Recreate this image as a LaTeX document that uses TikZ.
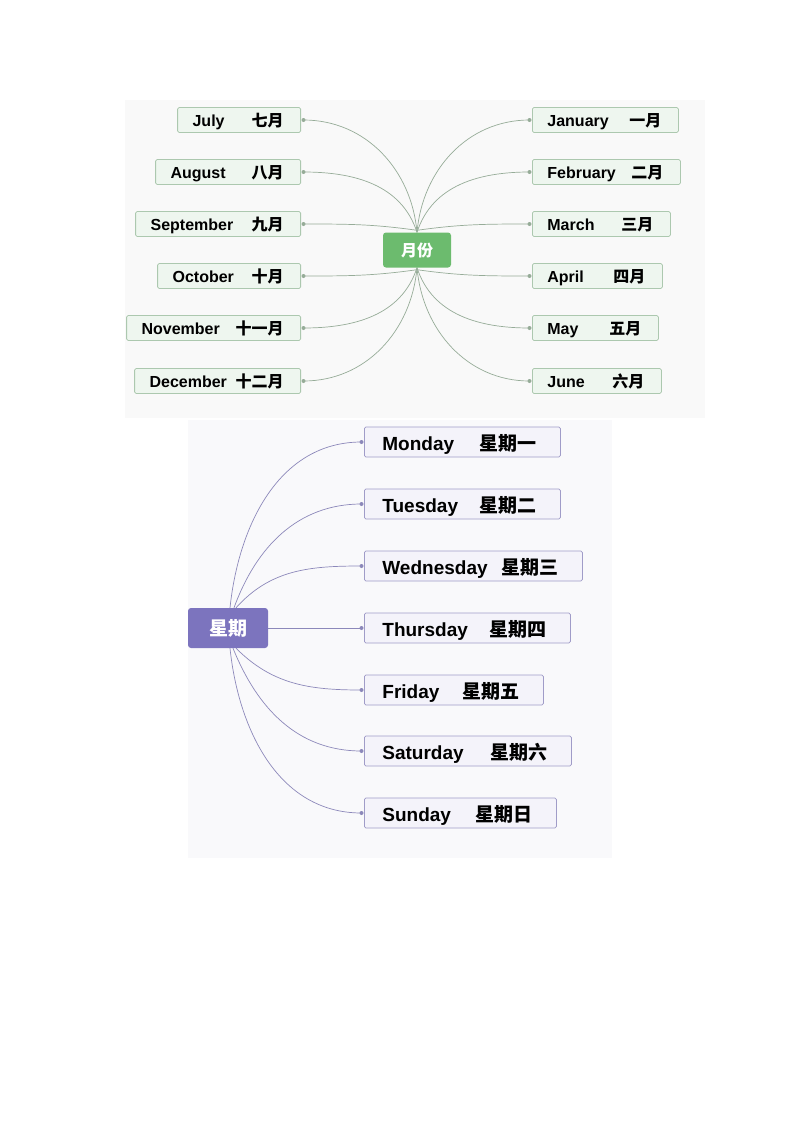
\documentclass[tikz,border=0pt]{standalone}
\usepackage{fontspec}
\setmainfont{Liberation Sans}
\newfontfamily\cjk{Noto Sans CJK SC}
\usetikzlibrary{backgrounds}
\definecolor{gnode}{RGB}{108,187,110}
\definecolor{gbox}{RGB}{238,246,239}
\definecolor{gedge}{RGB}{172,200,175}
\definecolor{gline}{RGB}{150,172,152}
\definecolor{pnode}{RGB}{124,116,190}
\definecolor{pbox}{RGB}{244,243,250}
\definecolor{pedge}{RGB}{160,156,200}
\definecolor{pline}{RGB}{140,136,186}
\definecolor{panel}{RGB}{249,249,249}
\definecolor{panelb}{RGB}{249,249,251}
\newcommand\mtxt[3]{\makebox[#1pt]{\hspace{15pt}#2\hfill{\cjk #3}\hspace{17pt}}}
\newcommand\wtxt[3]{\makebox[#1pt]{\hspace{18pt}#2\hfill{\cjk #3}\hspace{24pt}}}
\tikzset{
  monbox/.style={draw=gedge, fill=gbox, line width=0.8pt, rounded corners=1.5pt, inner xsep=0pt, inner ysep=0pt,
    minimum height=25pt, text height=14pt, text depth=1.5pt, font=\fontsize{16}{18}\selectfont\bfseries},
  wkbox/.style={draw=pedge, fill=pbox, line width=0.8pt, rounded corners=1.5pt, inner xsep=0pt, inner ysep=0pt,
    minimum height=30pt, text height=17.5pt, text depth=1pt, font=\fontsize{19}{21}\selectfont\bfseries},
  gcenter/.style={fill=gnode, rounded corners=3pt, minimum width=68pt, minimum height=35pt, inner sep=0pt,
    text=white, font=\cjk\fontsize{16}{18}\selectfont\bfseries},
  pcenter/.style={fill=pnode, rounded corners=3pt, minimum width=80pt, minimum height=40pt, inner sep=0pt,
    text=white, font=\cjk\fontsize{19}{21}\selectfont\bfseries},
  gconn/.style={draw=gline, line width=0.7pt},
  pconn/.style={draw=pline, line width=0.7pt},
  gdot/.style={circle, fill=gline, inner sep=0pt, minimum size=4pt},
  pdot/.style={circle, fill=pline, inner sep=0pt, minimum size=4pt},
}
\begin{document}
\begin{tikzpicture}[x=1pt,y=-1pt]
\useasboundingbox (0,0) rectangle (800,1132);
% centre nodes
\node[gcenter] (mon) at (417,250) {月份};
\node[pcenter] (wk) at (228,628) {星期};
% month boxes left
\node[monbox, anchor=east] (jul) at (301,120) {\mtxt{123}{July}{七月}};
\node[monbox, anchor=east] (aug) at (301,172) {\mtxt{145}{August}{八月}};
\node[monbox, anchor=east] (sep) at (301,224) {\mtxt{165}{September}{九月}};
\node[monbox, anchor=east] (oct) at (301,276) {\mtxt{143}{October}{十月}};
\node[monbox, anchor=east] (nov) at (301,328) {\mtxt{174}{November}{十一月}};
\node[monbox, anchor=east] (dec) at (301,381) {\mtxt{166}{December}{十二月}};
% month boxes right
\node[monbox, anchor=west] (jan) at (532,120) {\mtxt{146}{January}{一月}};
\node[monbox, anchor=west] (feb) at (532,172) {\mtxt{148}{February}{二月}};
\node[monbox, anchor=west] (mar) at (532,224) {\mtxt{138}{March}{三月}};
\node[monbox, anchor=west] (apr) at (532,276) {\mtxt{130}{April}{四月}};
\node[monbox, anchor=west] (may) at (532,328) {\mtxt{126}{May}{五月}};
\node[monbox, anchor=west] (jun) at (532,381) {\mtxt{129}{June}{六月}};
% weekday boxes
\node[wkbox, anchor=west] (d1) at (364,442) {\wtxt{196}{Monday}{星期一}};
\node[wkbox, anchor=west] (d2) at (364,504) {\wtxt{196}{Tuesday}{星期二}};
\node[wkbox, anchor=west] (d3) at (364,566) {\wtxt{218}{Wednesday}{星期三}};
\node[wkbox, anchor=west] (d4) at (364,628) {\wtxt{206}{Thursday}{星期四}};
\node[wkbox, anchor=west] (d5) at (364,690) {\wtxt{179}{Friday}{星期五}};
\node[wkbox, anchor=west] (d6) at (364,751) {\wtxt{207}{Saturday}{星期六}};
\node[wkbox, anchor=west] (d7) at (364,813) {\wtxt{192}{Sunday}{星期日}};
% dots
\foreach \b in {jul,aug,sep,oct,nov,dec} \node[gdot] (\b dot) at ([xshift=2.5pt]\b.east) {};
\foreach \b in {jan,feb,mar,apr,may,jun} \node[gdot] (\b dot) at ([xshift=-2.5pt]\b.west) {};
\foreach \b in {d1,d2,d3,d4,d5,d6,d7} \node[pdot] (\b dot) at ([xshift=-2.5pt]\b.west) {};
\begin{pgfonlayer}{background}
\fill[white] (0,0) rectangle (800,1132);
\fill[panel] (125,100) rectangle (705,418);
\fill[panelb] (188,420) rectangle (612,858);
% month connectors
\draw[gconn] (mon.north) to[out=95,in=0] (juldot.center);
\draw[gconn] (mon.north) to[out=108,in=0] (augdot.center);
\draw[gconn] ([yshift=2pt]mon.north) to[out=172,in=0] (sepdot.center);
\draw[gconn] ([yshift=-2pt]mon.south) to[out=188,in=0] (octdot.center);
\draw[gconn] (mon.south) to[out=252,in=0] (novdot.center);
\draw[gconn] (mon.south) to[out=265,in=0] (decdot.center);
\draw[gconn] (mon.north) to[out=85,in=180] (jandot.center);
\draw[gconn] (mon.north) to[out=72,in=180] (febdot.center);
\draw[gconn] ([yshift=2pt]mon.north) to[out=8,in=180] (mardot.center);
\draw[gconn] ([yshift=-2pt]mon.south) to[out=-8,in=180] (aprdot.center);
\draw[gconn] (mon.south) to[out=-72,in=180] (maydot.center);
\draw[gconn] (mon.south) to[out=-85,in=180] (jundot.center);
% weekday connectors
\draw[pconn] ([xshift=2pt]wk.north) to[out=84,in=180] (d1dot.center);
\draw[pconn] ([xshift=6pt]wk.north) to[out=70,in=180] (d2dot.center);
\draw[pconn] ([xshift=8pt]wk.north) to[out=48,in=180] (d3dot.center);
\draw[pconn] (wk.east) -- (d4dot.center);
\draw[pconn] ([xshift=8pt]wk.south) to[out=-45,in=180] (d5dot.center);
\draw[pconn] ([xshift=5pt]wk.south) to[out=-68,in=180] (d6dot.center);
\draw[pconn] ([xshift=2pt]wk.south) to[out=-84,in=180] (d7dot.center);
\end{pgfonlayer}
\end{tikzpicture}
\end{document}
